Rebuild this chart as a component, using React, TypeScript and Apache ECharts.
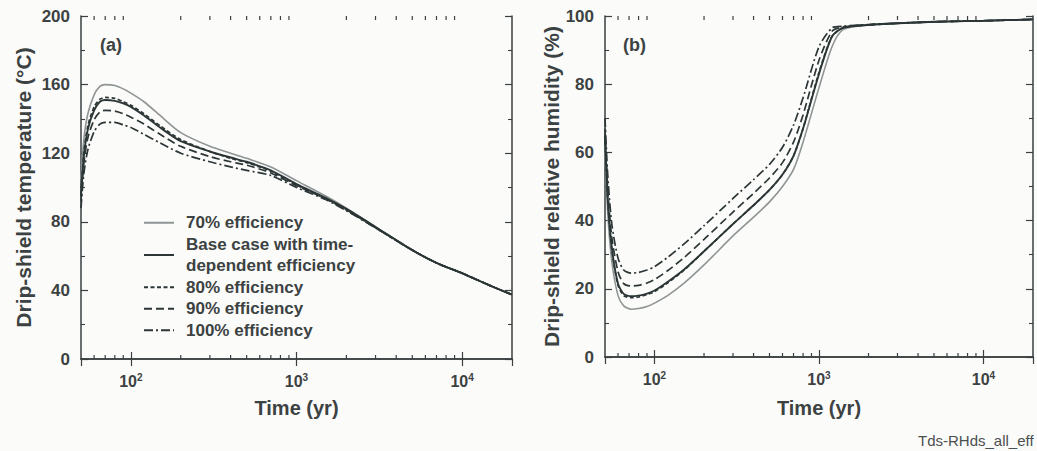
import React, { useEffect, useRef } from 'react';
import * as echarts from 'echarts';

const FONT = '"Liberation Sans", Arial, Helvetica, sans-serif';
const TEXT = '#3c4242';
const AXIS = '#3a3f3f';

const seriesNames = [
  '70% efficiency',
  'Base case with time-\ndependent efficiency',
  '80% efficiency',
  '90% efficiency',
  '100% efficiency',
];

// Panel (a): drip-shield temperature (°C)
const timeA = [50, 52, 55, 60, 65, 70, 80, 90, 100, 120, 150, 200, 300, 400, 500, 700, 1000, 1500, 2000, 3000, 5000, 7000, 10000, 15000, 20000];
const temp70 = [105, 128, 143, 154, 159, 160, 159.5, 157.5, 155, 150, 142, 132, 124, 120, 117, 112, 104, 95, 88, 77, 63.5, 56, 50, 42.5, 37.5];
const tempBase = [95, 118, 134, 145, 150, 151, 150.5, 149, 147, 142, 135, 127, 121, 117.5, 115, 110, 102, 94, 87.5, 77, 63.5, 56, 50, 42.5, 37.5];
const temp80 = [96, 120, 136, 147, 151.5, 152.5, 152, 150, 148, 143, 136, 128, 121, 117, 114.5, 109.5, 101.5, 93.5, 87, 76.5, 63.5, 56, 50, 42.5, 37.5];
const temp90 = [92, 114, 129, 139.5, 144, 145, 144.5, 143, 141, 137, 131, 124, 118, 115, 113, 108.5, 101, 93.5, 87, 76.5, 63.5, 56, 50, 42.5, 37.5];
const temp100 = [88, 108, 122, 132.5, 137, 138, 138, 136.5, 135, 131, 126, 120, 115, 112, 110, 107, 100, 93, 86.5, 76.5, 63.5, 56, 50, 42.5, 37.5];

// Panel (b): drip-shield relative humidity (%)
const timeB = [50, 52, 55, 60, 65, 72, 80, 90, 100, 120, 150, 200, 300, 400, 500, 600, 700, 800, 1000, 1200, 1400, 2000, 5000, 10000, 20000];
const rh70 = [62, 42, 28, 18, 15, 14, 14.2, 14.8, 15.8, 18, 21.5, 27, 35.5, 41, 45.5, 50, 55, 63, 79, 91, 96, 97.4, 98.3, 98.6, 99];
const rhBase = [65, 46, 32, 21.5, 18.5, 17.8, 18, 18.6, 19.5, 22, 25.5, 31, 39, 44.5, 49, 53.5, 59, 67, 83, 94, 96.5, 97.4, 98.3, 98.6, 99];
const rh80 = [65, 46, 31.5, 21, 18, 17.4, 17.6, 18.3, 19.2, 21.7, 25.3, 31, 39, 44.5, 49, 53.5, 59, 67, 83.5, 94, 96.5, 97.4, 98.3, 98.6, 99];
const rh90 = [67, 49, 35, 25, 21.5, 20.8, 21, 21.7, 22.7, 25.3, 29, 34.5, 42.5, 48, 52.5, 57, 63, 71, 87, 95.5, 96.8, 97.4, 98.3, 98.6, 99];
const rh100 = [70, 53, 39, 29, 25.5, 24.6, 24.8, 25.5, 26.5, 29.2, 33, 38.5, 46.5, 52, 56.5, 61.5, 68, 76, 91, 96.5, 97, 97.5, 98.3, 98.6, 99];

// Axis settings
const xMin = 50;
const xMax = 20000;
const tempMin = 0, tempMax = 200, tempInterval = 40;
const rhMin = 0, rhMax = 100, rhInterval = 20;
const logMinorTicks = [60, 70, 80, 90, 200, 300, 400, 500, 600, 700, 800, 900, 2000, 3000, 4000, 5000, 6000, 7000, 8000, 9000];

const lineStyles = [
  { color: '#8f9494', width: 1.6, type: 'solid' as any },
  { color: '#2c3636', width: 1.9, type: 'solid' as any },
  { color: '#2c3636', width: 1.7, type: [4, 2.5] as any },
  { color: '#2c3636', width: 1.7, type: [8, 4] as any },
  { color: '#2c3636', width: 1.7, type: [9, 3, 2, 3] as any },
];

function zip(xs: number[], ys: number[]) {
  return xs.map((x, i) => [x, ys[i]]);
}

function supLabel(v: number) {
  const e = Math.round(Math.log10(v));
  if (Math.abs(Math.pow(10, e) - v) > 1e-6 * v) return '';
  return `{b|10}{s|${e}}`;
}

export default function App() {
  const ref = useRef<HTMLDivElement>(null);
  useEffect(() => {
    if (!ref.current) return;
    const chart = echarts.init(ref.current, undefined, { renderer: 'svg' });

    const yLabelStyle = { fontFamily: FONT, fontWeight: 'bold' as const, fontSize: 17, color: TEXT };
    const nameStyleX = { fontFamily: FONT, fontWeight: 'bold' as const, fontSize: 20, color: TEXT };
    const nameStyleY = { fontFamily: FONT, fontWeight: 'bold' as const, fontSize: 21, color: TEXT };

    const xBottom = (gi: number, gap: number) => ({
      type: 'log' as const,
      gridIndex: gi,
      logBase: 10,
      min: xMin,
      max: xMax,
      position: 'bottom' as const,
      name: 'Time (yr)',
      nameLocation: 'middle' as const,
      nameGap: gap,
      nameTextStyle: nameStyleX,
      axisLine: { show: true, lineStyle: { color: AXIS, width: 1.5 } },
      axisTick: { show: true, inside: true, length: 7, lineStyle: { color: AXIS, width: 1.2 } },
      minorTick: { show: false },
      splitLine: { show: false },
      axisLabel: {
        margin: 13,
        formatter: supLabel,
        showMinLabel: false,
        showMaxLabel: false,
        rich: {
          b: { fontFamily: FONT, fontWeight: 'bold', fontSize: 16, color: TEXT, verticalAlign: 'bottom' },
          s: { fontFamily: FONT, fontWeight: 'bold', fontSize: 10, color: TEXT, verticalAlign: 'bottom', padding: [0, 0, 7, 0] },
        },
      },
    });
    const xTop = (gi: number) => ({
      type: 'log' as const,
      gridIndex: gi,
      logBase: 10,
      min: xMin,
      max: xMax,
      position: 'top' as const,
      axisLine: { show: true, lineStyle: { color: AXIS, width: 1.5 } },
      axisTick: { show: true, inside: true, length: 7, lineStyle: { color: AXIS, width: 1.2 } },
      axisLabel: { show: false },
      splitLine: { show: false },
    });
    const yAxis = (gi: number, min: number, max: number, interval: number, name: string, right: boolean, nameGap: number) => ({
      type: 'value' as const,
      gridIndex: gi,
      min,
      max,
      interval,
      position: right ? ('right' as const) : ('left' as const),
      name: right ? '' : name,
      nameLocation: 'middle' as const,
      nameGap,
      nameTextStyle: nameStyleY,
      axisLine: { show: true, lineStyle: { color: AXIS, width: 1.5 } },
      axisTick: { show: true, inside: true, length: 7, lineStyle: { color: AXIS, width: 1.2 } },
      minorTick: { show: true, splitNumber: 2, length: 4, lineStyle: { color: AXIS, width: 1.1 } },
      splitLine: { show: false },
      axisLabel: right ? { show: false } : { ...yLabelStyle, margin: 11 },
    });

    const lineSeries = (name: string, xi: number, yi: number, data: number[][], idx: number) => ({
      type: 'line' as const,
      name,
      xAxisIndex: xi,
      yAxisIndex: yi,
      data,
      showSymbol: false,
      symbol: 'none',
      smooth: 0.25,
      lineStyle: lineStyles[idx],
      itemStyle: { color: lineStyles[idx].color },
      z: idx === 0 ? 2 : 3,
    });

    const minorTickSeries = (xi: number, yi: number, yMin: number, yMax: number) => ({
      type: 'custom' as const,
      xAxisIndex: xi,
      yAxisIndex: yi,
      silent: true,
      clip: false,
      z: 5,
      data: logMinorTicks.map((v) => [v, yMin]),
      renderItem: (_params: any, api: any) => {
        const v = api.value(0);
        const b = api.coord([v, yMin]);
        const t = api.coord([v, yMax]);
        return {
          type: 'group',
          children: [
            { type: 'line', shape: { x1: b[0], y1: b[1], x2: b[0], y2: b[1] - 4 }, style: { stroke: AXIS, lineWidth: 1.2 } },
            { type: 'line', shape: { x1: t[0], y1: t[1], x2: t[0], y2: t[1] + 4 }, style: { stroke: AXIS, lineWidth: 1.2 } },
          ],
        };
      },
    });

    const tempSets = [temp70, tempBase, temp80, temp90, temp100];
    const rhSets = [rh70, rhBase, rh80, rh90, rh100];

    const option: any = {
      animation: false,
      backgroundColor: '#fbfbfa',
      textStyle: { fontFamily: FONT },
      grid: [
        { left: 81, right: 525, top: 16, bottom: 92, containLabel: false },
        { left: 605, right: 4, top: 16, bottom: 94, containLabel: false },
      ],
      xAxis: [xBottom(0, 39), xTop(0), xBottom(1, 41), xTop(1)],
      yAxis: [
        yAxis(0, tempMin, tempMax, tempInterval, 'Drip-shield temperature (°C)', false, 47),
        yAxis(0, tempMin, tempMax, tempInterval, '', true, 0),
        yAxis(1, rhMin, rhMax, rhInterval, 'Drip-shield relative humidity (%)', false, 43),
        yAxis(1, rhMin, rhMax, rhInterval, '', true, 0),
      ],
      legend: {
        show: true,
        orient: 'vertical',
        left: 138,
        top: 207,
        itemWidth: 30,
        itemHeight: 10,
        itemGap: 0,
        data: seriesNames,
        selectedMode: false,
        itemStyle: { opacity: 0, borderWidth: 0 },
        textStyle: { fontFamily: FONT, fontWeight: 'bold', fontSize: 17, color: TEXT, lineHeight: 21.5, padding: [0, 0, 0, 7] },
      },
      series: [
        ...tempSets.map((d, i) => lineSeries(seriesNames[i], 0, 0, zip(timeA, d), i)),
        ...rhSets.map((d, i) => lineSeries(seriesNames[i], 2, 2, zip(timeB, d), i)),
        minorTickSeries(0, 0, tempMin, tempMax),
        minorTickSeries(2, 2, rhMin, rhMax),
      ],
      graphic: [
        { type: 'text', left: 100, top: 36, style: { text: '(a)', font: `bold 18px ${FONT}`, fill: TEXT } },
        { type: 'text', left: 623, top: 36, style: { text: '(b)', font: `bold 18px ${FONT}`, fill: TEXT } },
        { type: 'text', left: 918, top: 433, style: { text: 'Tds-RHds_all_eff', font: `15px ${FONT}`, fill: '#4a4f4f' } },
      ],
    };
    chart.setOption(option);
    return () => chart.dispose();
  }, []);

  return <div ref={ref} style={{ position: 'fixed', left: 0, top: 0, width: 1037, height: 451 }} />;
}
